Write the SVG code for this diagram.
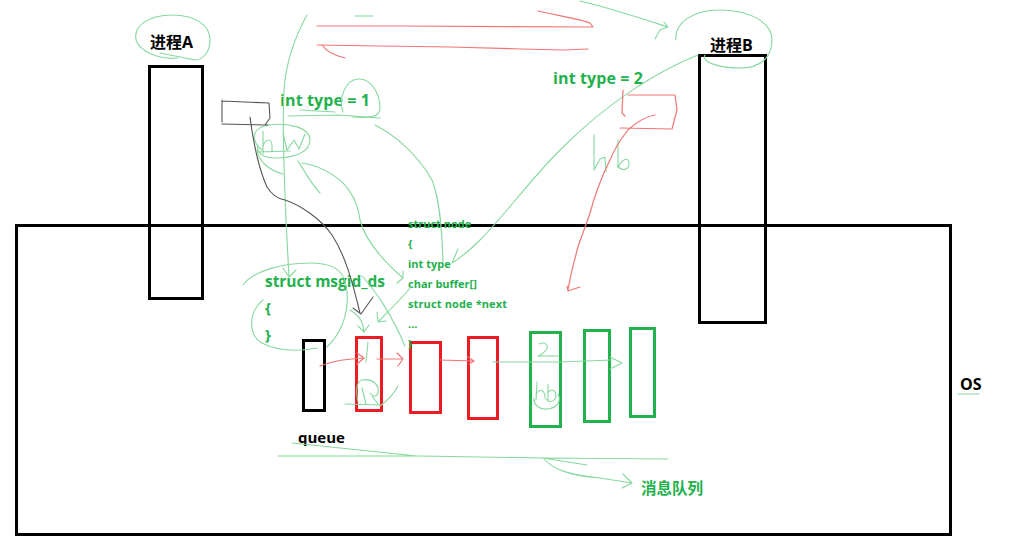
<svg xmlns="http://www.w3.org/2000/svg" width="1021" height="542" viewBox="0 0 1021 542">
<style>
.box{fill:none;stroke:#000;stroke-width:3}
.rq{fill:none;stroke:#ed1c24;stroke-width:3}
.gq{fill:none;stroke:#22b14c;stroke-width:3}
.t{font-family:"Open Sans","Noto Sans CJK SC",sans-serif;font-weight:bold}
.gt{fill:#22b14c}
.kt{fill:#000}
.g{fill:none;stroke:#86d89e;stroke-width:1.1;stroke-linecap:round;stroke-linejoin:round}
.r{fill:none;stroke:#f07575;stroke-width:1.2;stroke-linecap:round;stroke-linejoin:round}
.k{fill:none;stroke:#555;stroke-width:1.1;stroke-linecap:round;stroke-linejoin:round}
</style>
<rect width="1021" height="542" fill="#fff"/>

<g id="os">
<rect class="box" x="16.5" y="225.5" width="934" height="309"/>
<text class="t kt" x="960" y="390" font-size="16">OS</text>
</g>
<g id="procA">
<rect class="box" x="149.5" y="66.5" width="53" height="232"/>
<text class="t kt" x="150" y="48" font-size="16">进程A</text>
</g>
<g id="procB">
<rect class="box" x="699.5" y="55.5" width="66" height="267"/>
<text class="t kt" x="710" y="51" font-size="16">进程B</text>
</g>
<g id="type1"><text class="t gt" x="280" y="106" font-size="16" textLength="90">int type = 1</text></g>
<g id="type2"><text class="t gt" x="553" y="84" font-size="16" textLength="90">int type = 2</text></g>
<g id="msgid">
<text class="t gt" x="265" y="287" font-size="15.5" textLength="120">struct msgid_ds</text>
<text class="t gt" x="265" y="313" font-size="15">{</text>
<text class="t gt" x="265" y="340" font-size="15">}</text>
</g>
<g id="queue">
<rect class="box" x="303.5" y="340.5" width="21" height="70"/>
<text class="t kt" x="298" y="443" font-size="15">queue</text>
</g>
<g id="r1"><rect class="rq" x="356.5" y="337.5" width="25" height="73"/></g>
<g id="r2"><rect class="rq" x="410.5" y="342.5" width="30" height="70"/></g>
<g id="r3"><rect class="rq" x="468.5" y="337.5" width="29" height="81"/></g>
<g id="g1"><rect class="gq" x="530.5" y="332.5" width="30" height="94"/></g>
<g id="g2"><rect class="gq" x="584.5" y="330.5" width="25" height="91"/></g>
<g id="g3"><rect class="gq" x="630.5" y="328.5" width="24" height="88"/></g>
<g id="node" class="t gt" font-size="11">
<text x="408" y="228">struct node</text>
<text x="408" y="248">{</text>
<text x="408" y="268">int type</text>
<text x="408" y="288">char buffer[]</text>
<text x="408" y="308" textLength="99">struct node *next</text>
<text x="408" y="328">...</text>
<text x="408" y="348">}</text>
</g>
<g id="mq"><text class="t gt" x="641" y="494" font-size="15.5">消息队列</text></g>

<g id="connectors">
<path class="g" d="M178,58 C160,60 140,52 136,40 C133,25 150,15 172,15 C195,15 210,25 210,40 C210,52 203,60 195,60 C185,58 170,55 160,53"/>
<path class="g" d="M676,40 C674,22 695,9 722,10 C750,11 772,22 772,40 C772,58 760,68 740,68 C720,68 700,62 705,55"/>
<path class="g" d="M580,1 C610,8 640,18 668,27 M655,39 L660,30 L668,27 L664,22"/>
<path class="g" d="M355,16 L373,16"/>
<path class="g" d="M307,15 C296,35 286,60 284,90 C282,130 284,170 286,220 L289,277 M283,268 L289,277 L296,270"/>
<path class="g" d="M343,112 C338,100 345,80 358,79 C372,78 380,95 380,108 C380,118 368,118 352,117"/>
<path class="g" d="M288,116 L340,115 L380,118 M300,110 L335,112"/>
<path class="g" d="M262,150 C250,140 252,128 268,125 C290,122 310,128 310,140 C310,152 295,158 275,158 C262,158 256,152 258,145"/>
<path class="g" d="M263,131 L263,154 M263,146 C266,138 272,138 272,146 L272,152 M283,133 L287,150 L294,140 L299,149 L305,134 M258,152 L290,151"/>
<path class="g" d="M298,161 C305,172 312,185 320,193 M302,163 C315,165 330,170 345,185 C352,195 357,200 360,220 C365,240 380,258 403,278 M397,283 L403,278 L403,271"/>
<path class="g" d="M257,150 C258,160 268,170 283,174"/>
<path class="g" d="M375,125 C395,135 418,155 432,180 C440,200 442,230 443,262"/>
<path class="g" d="M698,55 C660,70 610,100 560,150 C530,180 505,215 480,240 C468,252 460,258 452,263 M458,249 L452,263"/>
<path class="g" d="M243,285 C252,272 280,263 310,263 C330,263 343,268 346,285 C350,305 345,330 327,347"/>
<path class="g" d="M263,300 C248,312 248,335 262,343 C275,350 295,352 317,348"/>
<path class="g" d="M350,310 C360,316 363,322 364,332 M358,326 L364,332 L369,325"/>
<path class="g" d="M362,276 C375,290 392,315 405,346"/>
<path class="g" d="M412,286 C400,300 388,312 378,322 M377,312 L378,322 L386,321"/>
<path class="g" d="M368,342 L366,362 M358,402 C356,392 356,382 362,380 C372,378 380,385 378,393 C376,398 372,396 370,393 M362,388 L366,404 M372,396 L378,404 M345,404 L380,405 M380,406 C388,400 394,394 398,386"/>
<path class="g" d="M539,344 C546,341 549,346 546,350 C543,354 539,356 538,356 L558,356"/>
<path class="g" d="M537,382 L536,400 M536,394 C540,388 545,390 545,398 M548,384 L548,400 M548,392 C553,388 558,392 555,399 C552,403 548,402 546,399 M534,398 C533,405 540,410 548,409 C556,408 562,402 558,394"/>
<path class="g" d="M493,362 L560,362 L612,360 M610,357 L622,363 L610,369"/>
<path class="g" d="M594,135 L594,170 L600,159 L605,157 L606,172 M618,140 L618,168 C622,158 629,157 629,163 C629,170 622,172 618,166"/>
<path class="g" d="M278,456 L420,456 L545,458 L668,459 M292,443 L417,456 M543,458 L587,465 M543,458 C552,468 565,475 600,478 L632,483 M623,474 L632,483 L622,488"/>
<path class="g" d="M958,394 L979,394"/>
<path class="r" d="M317,26 L400,26 L593,27 L590,23 C580,19 560,16 538,11"/>
<path class="r" d="M317,45 L380,46 L450,47 L520,49 L565,50 L588,49 M322,45 C326,51 332,55 345,58"/>
<path class="r" d="M623,90 L622,113 L625,116 M628,95 L675,95 L677,110 L672,129 M620,128 L672,129 M655,115 C648,116 640,119 628,130 C620,140 614,150 610,160 C600,180 594,198 590,213 C585,228 580,240 578,247 C573,265 570,278 568,290 M567,286 L568,291 L580,287"/>
<path class="r" d="M320,366 C330,362 338,360 363,358 M357,353 L364,358 L357,364"/>
<path class="r" d="M377,359 L402,359 M397,353 L403,359 L398,366"/>
<path class="r" d="M440,360 L474,361 M468,357 L474,361 L469,364"/>
<path class="k" d="M222,100 L222,122 M222,101 L269,103 L270,118 L265,125 M222,124 L268,125"/>
<path class="k" d="M250,117 C253,140 257,165 267,187 C272,195 278,199 285,200 C300,205 320,218 332,235 C345,255 352,280 360,313 M353,308 L361,314 L373,297"/>
</g>
</svg>
